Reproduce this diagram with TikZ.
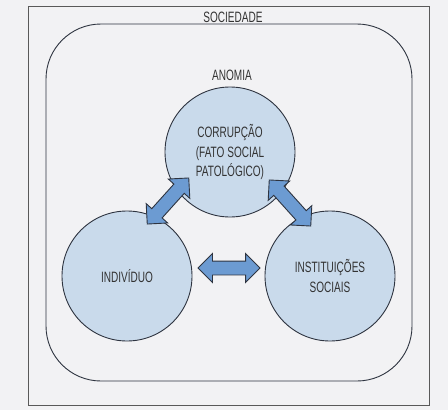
\documentclass[tikz,border=0pt]{standalone}
\usepackage{fontspec}
\setmainfont{Liberation Sans}[FakeStretch=0.67]
\usetikzlibrary{shapes.arrows}
\definecolor{fundo}{HTML}{F2F2F4}
\definecolor{circulo}{HTML}{C9DAEB}
\definecolor{seta}{HTML}{6C9BD2}
\definecolor{contorno}{HTML}{2E3440}
\definecolor{texto}{HTML}{333333}
\tikzset{
    rotulo/.style={font=\fontsize{15}{19.5}\selectfont,text=texto,align=center},
    esfera/.style={circle,draw=contorno,line width=0.9pt,fill=circulo,minimum size=130pt,inner sep=0pt},
    setadupla/.style={double arrow,draw=contorno,line width=0.9pt,fill=seta,inner xsep=0pt,inner ysep=6.5pt,
        minimum height=62pt,double arrow head extend=7.5pt}
}
\begin{document}
\begin{tikzpicture}[x=1pt,y=-1pt]
        \useasboundingbox[fill=fundo] (0,0) rectangle (448,410);
        %% sociedade
        \draw[gray!70!black,line width=1pt] (28,6) rectangle (429,405);
        \node[rotulo] (sociedade) at (233,17) {SOCIEDADE};
        %% anomia
        \draw[contorno,line width=0.9pt,rounded corners=55pt] (46,24) rectangle (412,381);
        \node[rotulo] (anomia) at (232,75) {ANOMIA};
        %% circulos
        \node[esfera] (corrupcao) at (230,152) {};
        \node[esfera] (individuo) at (127,276) {};
        \node[esfera] (instituicoes) at (330,276) {};
        \node[rotulo] at (corrupcao) {CORRUPÇÃO\\(FATO SOCIAL\\PATOLÓGICO)};
        \node[rotulo] at (individuo) {INDIVÍDUO};
        \node[rotulo] at (instituicoes) {INSTITUIÇÕES\\SOCIAIS};
        %% setas
        \node[setadupla,rotate=48] (setaA) at (168,201) {};
        \node[setadupla,rotate=-48] (setaB) at (290,203) {};
        \node[setadupla] (setaC) at (229,268) {};
    \end{tikzpicture}
\end{document}
